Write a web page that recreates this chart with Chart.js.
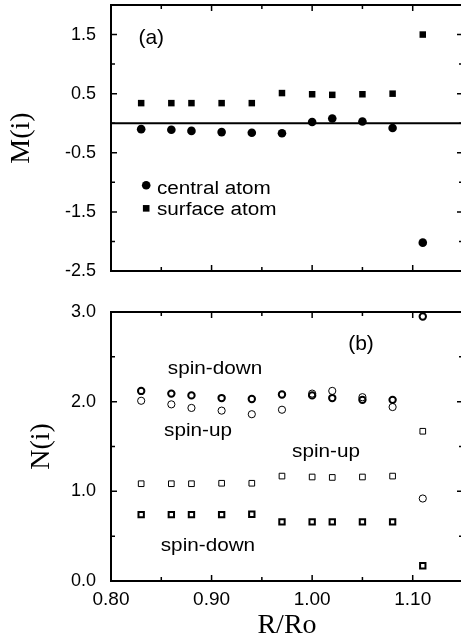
<!DOCTYPE html>
<html>
<head>
<meta charset="utf-8">
<script src="https://cdn.jsdelivr.net/npm/chart.js@4.4.0/dist/chart.umd.min.js"></script>
<style>
  html, body { margin: 0; padding: 0; background: #fff; overflow: hidden; width: 461px; height: 643px; }
  canvas { position: absolute; left: 0; }
  #topChart { top: 0; }
  #botChart { top: 290px; }
</style>
</head>
<body>
<canvas id="topChart" width="470" height="290"></canvas>
<canvas id="botChart" width="470" height="353"></canvas>
<script>
// R/Ro values, same for both panels
const ratios = [0.83, 0.86, 0.88, 0.91, 0.94, 0.97, 1.00, 1.02, 1.05, 1.08, 1.11];

// (a) moments M(i)
const centralM = [-0.10, -0.11, -0.13, -0.15, -0.16, -0.17, 0.02, 0.08, 0.03, -0.08, -2.02];
const surfaceM = [0.34, 0.34, 0.34, 0.34, 0.34, 0.51, 0.49, 0.48, 0.49, 0.50, 1.50];
const zeroLineX = [0.80, 1.15];

// (b) occupations N(i)
const centralDown = [2.12, 2.09, 2.07, 2.04, 2.03, 2.08, 2.07, 2.04, 2.02, 2.02, 2.95];
const centralUp = [2.01, 1.97, 1.93, 1.90, 1.86, 1.91, 2.09, 2.12, 2.05, 1.94, 0.92];
const surfaceUp = [1.085, 1.085, 1.085, 1.09, 1.09, 1.17, 1.16, 1.155, 1.16, 1.17, 1.67];
const surfaceDown = [0.74, 0.74, 0.74, 0.74, 0.745, 0.66, 0.66, 0.66, 0.66, 0.66, 0.17];

// tick values
const xTicks = [0.80, 0.90, 1.00, 1.10];
const xMinor = [0.85, 0.95, 1.05];
const mTicks = [-2.5, -1.5, -0.5, 0.5, 1.5];
const mMinor = [-2.0, -1.0, 0.0, 1.0];
const nTicks = [0.0, 1.0, 2.0, 3.0];
const nMinor = [0.5, 1.5, 2.5];

const pts = vals => ratios.map((r, i) => ({x: r, y: vals[i]}));
const sans = 'Liberation Sans, Arial, sans-serif';
const serif = 'Liberation Serif, Times New Roman, serif';

// box, inward ticks and text notes
const framePlugin = {
    id: 'frame',
    afterDatasetsDraw(chart, args, opts) {
        const {ctx, chartArea: a, scales: {x, y}} = chart;
        ctx.save();
        ctx.strokeStyle = '#000';
        ctx.lineWidth = 2;
        ctx.strokeRect(a.left, a.top, a.right - a.left, a.bottom - a.top);
        ctx.lineWidth = 1.5;
        ctx.beginPath();
        const xt = (vals, len) => vals.forEach(v => {
            const px = x.getPixelForValue(v);
            ctx.moveTo(px, a.top); ctx.lineTo(px, a.top + len);
            ctx.moveTo(px, a.bottom); ctx.lineTo(px, a.bottom - len);
        });
        const yt = (vals, len) => vals.forEach(v => {
            const py = y.getPixelForValue(v);
            ctx.moveTo(a.left, py); ctx.lineTo(a.left + len, py);
            ctx.moveTo(a.right, py); ctx.lineTo(a.right - len, py);
        });
        xt(xTicks.slice(1), 6);
        xt(xMinor, 4);
        yt(opts.yMajor, 6);
        yt(opts.yMinor, 4);
        ctx.stroke();

        ctx.fillStyle = '#000';
        ctx.textBaseline = 'middle';
        (opts.notes || []).forEach(n => {
            ctx.save();
            ctx.translate(x.getPixelForValue(n.x), y.getPixelForValue(n.y));
            ctx.scale(n.stretch || 1, 1);
            ctx.font = n.font;
            ctx.textAlign = n.align || 'center';
            ctx.fillText(n.text, 0, 0);
            ctx.restore();
        });
        // legend symbols
        (opts.marks || []).forEach(m => {
            const px = x.getPixelForValue(m.x), py = y.getPixelForValue(m.y);
            ctx.beginPath();
            if (m.shape === 'circle') ctx.arc(px, py, 4.3, 0, Math.PI * 2);
            else ctx.rect(px - 3.3, py - 3.3, 6.6, 6.6);
            ctx.fill();
        });
        ctx.restore();
    }
};

const yAxis = (ticks, min, max, title, titlePad) => ({
    min: min,
    max: max,
    afterBuildTicks: s => { s.ticks = ticks.map(v => ({value: v})); },
    afterFit: s => { s.width = 111; s.paddingTop = 0; s.paddingBottom = 0; },
    grid: {display: false, drawTicks: false},
    border: {display: false},
    ticks: {
        color: '#000',
        padding: 15,
        font: {family: sans, size: 18},
        callback: v => v.toFixed(1)
    },
    title: {
        display: true,
        text: title,
        color: '#000',
        font: {family: serif, size: 28},
        padding: {top: titlePad, bottom: 0}
    }
});

const baseOptions = {
    responsive: false,
    animation: false,
    events: [],
    devicePixelRatio: 1,
    plugins: {legend: {display: false}, tooltip: {enabled: false}}
};

// (a)
new Chart(document.getElementById('topChart'), {
    type: 'scatter',
    data: {
        datasets: [
            {
                data: pts(centralM),
                pointStyle: 'circle',
                pointRadius: 4.3,
                pointBorderWidth: 0,
                pointBackgroundColor: '#000'
            },
            {
                data: pts(surfaceM),
                pointStyle: 'rect',
                pointRadius: 4.6,
                pointBorderWidth: 0,
                pointBackgroundColor: '#000'
            },
            {
                data: zeroLineX.map(v => ({x: v, y: 0})),
                showLine: true,
                borderColor: '#000',
                borderWidth: 2,
                pointRadius: 0
            }
        ]
    },
    options: {
        ...baseOptions,
        layout: {padding: {top: 5, right: 7, left: 0, bottom: 0}},
        scales: {
            x: {
                type: 'linear',
                min: 0.80,
                max: 1.15,
                grid: {display: false, drawTicks: false},
                border: {display: false},
                ticks: {display: false},
                afterFit: s => { s.height = 19; s.paddingLeft = 0; s.paddingRight = 0; }
            },
            y: yAxis(mTicks, -2.5, 2.0, 'M(i)', 5)
        },
        plugins: {
            ...baseOptions.plugins,
            frame: {
                yMajor: mTicks,
                yMinor: mMinor,
                notes: [
                    {text: '(a)', x: 0.840, y: 1.44, font: '21px ' + sans},
                    {text: 'central atom', x: 0.8457, y: -1.11, font: '18px ' + sans, align: 'left', stretch: 1.15},
                    {text: 'surface atom', x: 0.8457, y: -1.47, font: '18px ' + sans, align: 'left', stretch: 1.15}
                ],
                marks: [
                    {shape: 'circle', x: 0.835, y: -1.05},
                    {shape: 'rect', x: 0.835, y: -1.44}
                ]
            }
        }
    },
    plugins: [framePlugin]
});

// (b)
new Chart(document.getElementById('botChart'), {
    type: 'scatter',
    data: {
        datasets: [
            {
                data: pts(centralDown),
                pointStyle: 'circle',
                pointRadius: 3.2,
                pointBorderWidth: 2,
                pointBorderColor: '#000',
                pointBackgroundColor: 'rgba(0,0,0,0)'
            },
            {
                data: pts(centralUp),
                pointStyle: 'circle',
                pointRadius: 3.6,
                pointBorderWidth: 1,
                pointBorderColor: '#000',
                pointBackgroundColor: 'rgba(0,0,0,0)'
            },
            {
                data: pts(surfaceUp),
                pointStyle: 'rect',
                pointRadius: 4,
                pointBorderWidth: 1,
                pointBorderColor: '#000',
                pointBackgroundColor: 'rgba(0,0,0,0)'
            },
            {
                data: pts(surfaceDown),
                pointStyle: 'rect',
                pointRadius: 3.8,
                pointBorderWidth: 2,
                pointBorderColor: '#000',
                pointBackgroundColor: 'rgba(0,0,0,0)'
            }
        ]
    },
    options: {
        ...baseOptions,
        layout: {padding: {top: 22, right: 7, left: 0, bottom: 0}},
        scales: {
            x: {
                type: 'linear',
                min: 0.80,
                max: 1.15,
                afterBuildTicks: s => { s.ticks = xTicks.map(v => ({value: v})); },
                afterFit: s => { s.height = 62; s.paddingLeft = 0; s.paddingRight = 0; },
                grid: {display: false, drawTicks: false},
                border: {display: false},
                ticks: {
                    color: '#000',
                    padding: 7,
                    maxRotation: 0,
                    font: {family: sans, size: 19},
                    callback: v => v.toFixed(2)
                },
                title: {
                    display: true,
                    text: 'R/Ro',
                    color: '#000',
                    font: {family: serif, size: 28},
                    padding: {top: 0, bottom: 1}
                }
            },
            y: yAxis(nTicks, 0, 3, 'N(i)', 25)
        },
        plugins: {
            ...baseOptions.plugins,
            frame: {
                yMajor: nTicks,
                yMinor: nMinor,
                notes: [
                    {text: '(b)', x: 1.0486, y: 2.64, font: '21px ' + sans},
                    {text: 'spin-down', x: 0.9034, y: 2.36, font: '18px ' + sans, stretch: 1.15},
                    {text: 'spin-up', x: 0.8865, y: 1.67, font: '18px ' + sans, stretch: 1.15},
                    {text: 'spin-up', x: 1.0138, y: 1.44, font: '18px ' + sans, stretch: 1.15},
                    {text: 'spin-down', x: 0.8964, y: 0.39, font: '18px ' + sans, stretch: 1.15}
                ]
            }
        }
    },
    plugins: [framePlugin]
});
</script>
</body>
</html>
